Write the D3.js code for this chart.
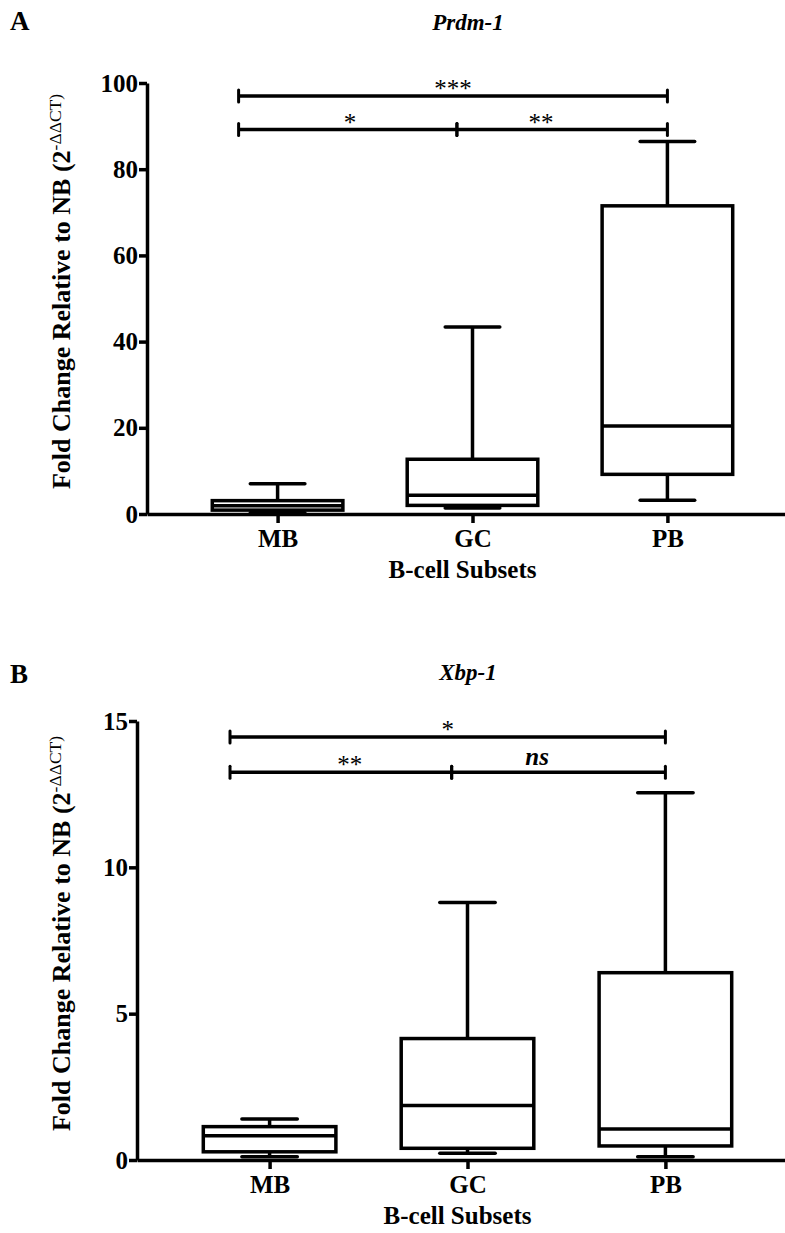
<!DOCTYPE html>
<html>
<head>
<meta charset="utf-8">
<script src="https://cdn.jsdelivr.net/npm/d3@7"></script>
<style>
  body { margin: 0; background: #fff; }
  svg text { font-family: "Liberation Serif", Tinos, "Times New Roman", Times, serif; fill: #000; }
</style>
</head>
<body>
<script>
var categories = ["MB", "GC", "PB"];

// Prdm-1 box plot values (min, Q1, median, Q3, max)
var prdmMin = [0.3, 1.4, 3.2],
    prdmQ1 = [0.9, 2.0, 9.2],
    prdmMedian = [1.9, 4.35, 20.4],
    prdmQ3 = [3.1, 12.7, 71.5],
    prdmMax = [7.0, 43.4, 86.4];
var prdmTicks = [0, 20, 40, 60, 80, 100];
var prdmSig = [
    {from: "MB", to: "PB", level: 97, label: "***"},
    {from: "MB", to: "GC", level: 89.2, label: "*"},
    {from: "GC", to: "PB", level: 89.2, label: "**"}
];

// Xbp-1 box plot values
var xbpMin = [0.11, 0.23, 0.11],
    xbpQ1 = [0.28, 0.40, 0.48],
    xbpMedian = [0.83, 1.86, 1.06],
    xbpQ3 = [1.14, 4.15, 6.4],
    xbpMax = [1.40, 8.8, 12.55];
var xbpTicks = [0, 5, 10, 15];
var xbpSig = [
    {from: "MB", to: "PB", level: 14.45, label: "*"},
    {from: "MB", to: "GC", level: 13.25, label: "**"},
    {from: "GC", to: "PB", level: 13.25, label: "ns"}
];

var width = 785, height = 1233;

var svg = d3.select("body").append("svg")
    .attr("width", width)
    .attr("height", height);

function stats(mn, q1, md, q3, mx) {
    return categories.map(function (c, i) {
        return {cat: c, min: mn[i], q1: q1[i], median: md[i], q3: q3[i], max: mx[i]};
    });
}

var panels = [
    {letter: "A", gene: "Prdm-1", left: 147, top: 83, bottom: 514, letterY: 30, geneY: 30,
     ticks: prdmTicks, sig: prdmSig, labelAt: [0.5, 0.51, 0.4],
     boxes: stats(prdmMin, prdmQ1, prdmMedian, prdmQ3, prdmMax)},
    {letter: "B", gene: "Xbp-1", left: 137, top: 721, bottom: 1160, letterY: 683, geneY: 680,
     ticks: xbpTicks, sig: xbpSig, labelAt: [0.5, 0.54, 0.4],
     boxes: stats(xbpMin, xbpQ1, xbpMedian, xbpQ3, xbpMax)}
];

panels.forEach(drawPanel);

function drawPanel(p) {
    var g = svg.append("g");

    var y = d3.scaleLinear()
        .domain([0, d3.max(p.ticks)])
        .range([p.bottom, p.top]);

    var x = d3.scalePoint()
        .domain(categories)
        .range([p.left, 798])
        .padding(0.67);
    var step = x.step();

    // panel letter + gene title
    g.append("text")
        .attr("x", 10).attr("y", p.letterY)
        .style("font-size", "27px").style("font-weight", "bold")
        .text(p.letter);
    g.append("text")
        .attr("x", 468).attr("y", p.geneY)
        .attr("text-anchor", "middle")
        .style("font-size", "23px").style("font-weight", "bold").style("font-style", "italic")
        .text(p.gene);

    // axes
    var yAxis = g.append("g")
        .attr("transform", "translate(" + p.left + ",0)")
        .call(d3.axisLeft(y).tickValues(p.ticks).tickSize(8).tickSizeOuter(0).tickPadding(1));
    var xAxis = g.append("g")
        .attr("transform", "translate(0," + p.bottom + ")")
        .call(d3.axisBottom(x).tickSize(9).tickSizeOuter(0).tickPadding(6));

    [yAxis, xAxis].forEach(function (a) {
        a.attr("font-family", null);
        a.select(".domain").attr("stroke-width", 3.5).attr("stroke", "#000");
        a.selectAll(".tick line").attr("stroke-width", 3.5).attr("stroke", "#000");
        a.selectAll(".tick text")
            .style("font-size", "25px").style("font-weight", "bold")
            .attr("fill", "#000");
    });

    // axis titles
    g.append("text")
        .attr("x", x("GC") - 10).attr("y", p.bottom + 64)
        .attr("text-anchor", "middle")
        .style("font-size", "25px").style("font-weight", "bold")
        .text("B-cell Subsets");

    var yt = g.append("text")
        .attr("transform", "translate(70," + ((p.top + p.bottom) / 2 - 7) + ")rotate(-90)")
        .attr("text-anchor", "middle")
        .style("font-size", "26px").style("font-weight", "bold");
    yt.append("tspan").text("Fold Change Relative to NB (2");
    yt.append("tspan").attr("dy", -9).style("font-size", "17.5px").style("font-weight", "normal").text("-\u0394\u0394CT)");

    // boxes
    var hw = step * 0.335, cw = step * 0.14;
    var box = g.selectAll(".box")
        .data(p.boxes)
        .enter().append("g")
        .attr("class", "box")
        .attr("stroke", "#000")
        .attr("stroke-width", 3.5)
        .attr("fill", "none");

    box.append("line")
        .attr("x1", function (d) { return x(d.cat); })
        .attr("x2", function (d) { return x(d.cat); })
        .attr("y1", function (d) { return y(d.max); })
        .attr("y2", function (d) { return y(d.q3); });
    box.append("line")
        .attr("x1", function (d) { return x(d.cat); })
        .attr("x2", function (d) { return x(d.cat); })
        .attr("y1", function (d) { return y(d.q1); })
        .attr("y2", function (d) { return y(d.min); });
    box.append("line")
        .attr("stroke-linecap", "round")
        .attr("x1", function (d) { return x(d.cat) - cw; })
        .attr("x2", function (d) { return x(d.cat) + cw; })
        .attr("y1", function (d) { return y(d.max); })
        .attr("y2", function (d) { return y(d.max); });
    box.append("line")
        .attr("stroke-linecap", "round")
        .attr("x1", function (d) { return x(d.cat) - cw; })
        .attr("x2", function (d) { return x(d.cat) + cw; })
        .attr("y1", function (d) { return y(d.min); })
        .attr("y2", function (d) { return y(d.min); });
    box.append("rect")
        .attr("x", function (d) { return x(d.cat) - hw; })
        .attr("width", hw * 2)
        .attr("y", function (d) { return y(d.q3); })
        .attr("height", function (d) { return y(d.q1) - y(d.q3); });
    box.append("line")
        .attr("x1", function (d) { return x(d.cat) - hw; })
        .attr("x2", function (d) { return x(d.cat) + hw; })
        .attr("y1", function (d) { return y(d.median); })
        .attr("y2", function (d) { return y(d.median); });

    // significance brackets
    function endX(cat) {
        if (cat === "MB") return x(cat) - 0.2 * step;
        if (cat === "GC") return x(cat) - 0.08 * step;
        return x(cat);
    }
    var sig = g.selectAll(".sig")
        .data(p.sig)
        .enter().append("g")
        .attr("class", "sig");

    sig.append("line")
        .attr("stroke", "#000").attr("stroke-width", 3.5)
        .attr("x1", function (d) { return endX(d.from); })
        .attr("x2", function (d) { return endX(d.to); })
        .attr("y1", function (d) { return y(d.level); })
        .attr("y2", function (d) { return y(d.level); });
    ["from", "to"].forEach(function (k) {
        sig.append("line")
            .attr("stroke", "#000").attr("stroke-width", 3)
            .attr("stroke-linecap", "round")
            .attr("x1", function (d) { return endX(d[k]); })
            .attr("x2", function (d) { return endX(d[k]); })
            .attr("y1", function (d) { return y(d.level) - 6; })
            .attr("y2", function (d) { return y(d.level) + 6; });
    });
    sig.append("text")
        .attr("text-anchor", "middle")
        .attr("x", function (d, i) {
            var a = endX(d.from), b = endX(d.to);
            return a + (b - a) * p.labelAt[i];
        })
        .attr("y", function (d) { return y(d.level) - (d.label === "ns" ? 7 : -1); })
        .style("font-size", "25px")
        .style("font-weight", function (d) { return d.label === "ns" ? "bold" : "normal"; })
        .style("font-style", function (d) { return d.label === "ns" ? "italic" : "normal"; })
        .text(function (d) { return d.label; });
}
</script>
</body>
</html>
